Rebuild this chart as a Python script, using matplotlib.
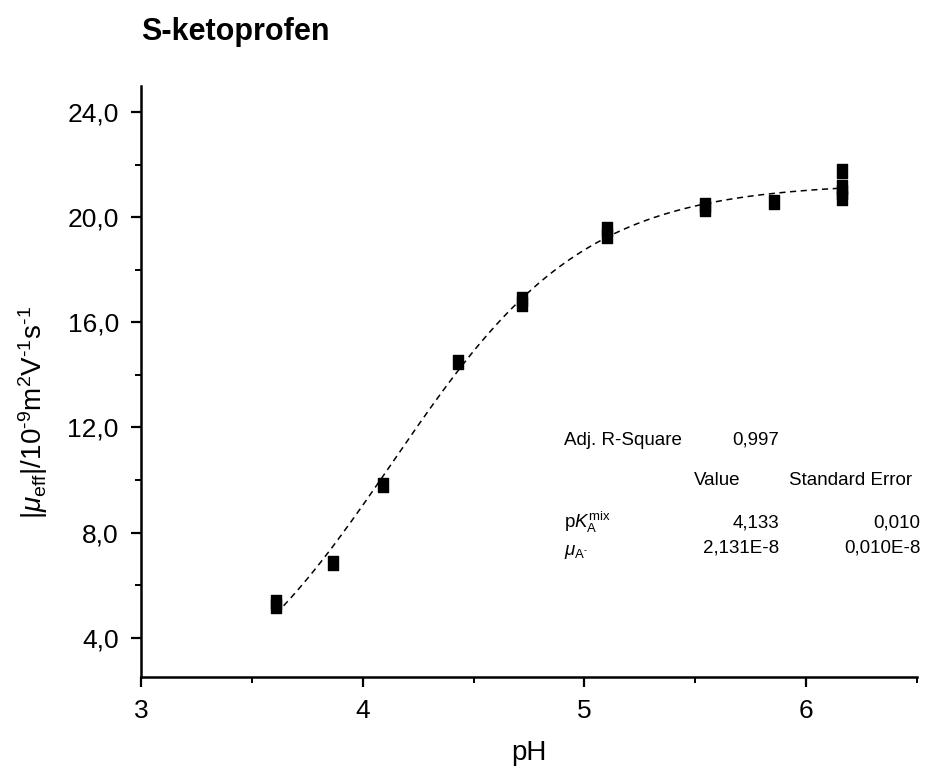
import numpy as np
import matplotlib
matplotlib.use("Agg")
import matplotlib.pyplot as plt
from matplotlib.path import Path

plt.rcParams['font.family'] = ['Liberation Sans', 'DejaVu Sans']
plt.rcParams['mathtext.fontset'] = 'custom'
plt.rcParams['mathtext.rm'] = 'Liberation Sans'
plt.rcParams['mathtext.it'] = 'Liberation Sans:italic'
plt.rcParams['mathtext.bf'] = 'Liberation Sans:bold'

# measured data (pH, |mu_eff| in 1e-9 m2/Vs)
ph = [3.61, 3.61, 3.866, 4.09, 4.43, 4.72, 4.72, 5.10, 5.10, 5.545, 5.545, 5.857,
      6.16, 6.16, 6.16, 6.16]
mu = [5.20, 5.35, 6.85, 9.81, 14.49, 16.70, 16.90, 19.29, 19.56, 20.32, 20.47, 20.57,
      20.72, 20.95, 21.16, 21.76]

# fit parameters
pka = 4.133
mu_a = 21.31
fit_range = [3.61, 6.16]

xticks = [3, 4, 5, 6]
yticks = [4, 8, 12, 16, 20, 24]
ytick_labels = ['4,0', '8,0', '12,0', '16,0', '20,0', '24,0']

fig = plt.figure(figsize=(9.27, 7.73), dpi=100)
ax = fig.add_axes([141/927, 1-677/773, 776/927, 591/773])

xf = np.linspace(fit_range[0], fit_range[1], 300)
yf = mu_a / (1 + 10**(pka - xf))
ax.plot(xf, yf, color='black', lw=1.1, linestyle=(0, (4, 3)))

rect = Path([(-0.385, -0.5), (0.385, -0.5), (0.385, 0.5), (-0.385, 0.5), (-0.385, -0.5)],
            [Path.MOVETO, Path.LINETO, Path.LINETO, Path.LINETO, Path.CLOSEPOLY])
ax.plot(ph, mu, linestyle='none', marker=rect, markersize=9.5, color='black', zorder=3)

ax.set_xlim(3, 6.5)
ax.set_ylim(2.5, 25)
ax.set_xticks(xticks)
ax.set_xticklabels([str(t) for t in xticks])
ax.set_xticks([3.5, 4.5, 5.5, 6.5], minor=True)
ax.set_yticks(yticks)
ax.set_yticklabels(ytick_labels)
ax.set_yticks([6, 10, 14, 18, 22], minor=True)

for s in ['top', 'right']:
    ax.spines[s].set_visible(False)
for s in ['left', 'bottom']:
    ax.spines[s].set_linewidth(1.8)
ax.tick_params(which='major', direction='out', length=7, width=1.6, labelsize=19)
ax.tick_params(axis='y', which='major', pad=9)
ax.tick_params(axis='x', which='major', pad=9)
ax.tick_params(which='minor', direction='out', length=4, width=1.4)

ax.set_xlabel('pH', fontsize=20, labelpad=12)
ax.set_ylabel(r'$|\mu_{\mathregular{eff}}|/10^{\text{-9}}\mathregular{m}^{2}\mathregular{V}^{\text{-1}}\mathregular{s}^{\text{-1}}$',
              fontsize=20)
ax.yaxis.set_label_coords((50 - 141) / 776, (677 - 412) / 591)

fig.text(141/927, 1-40/773, 'S-ketoprofen', fontsize=22, fontweight='bold', ha='left', va='baseline')

fs = 13.5
def dx(px):
    return 3 + (px - 141) / 221
def dy(py):
    return 4 + (638 - py) / 26.3

ax.text(dx(563), dy(445), 'Adj. R-Square', fontsize=fs, va='baseline', ha='left')
ax.text(dx(777), dy(445), '0,997', fontsize=fs, va='baseline', ha='right')
ax.text(dx(692), dy(485), 'Value', fontsize=fs, va='baseline', ha='left')
ax.text(dx(787), dy(485), 'Standard Error', fontsize=fs, va='baseline', ha='left', clip_on=False)
ax.text(dx(563), dy(528), r'p$K_{\mathregular{A}}^{\mathregular{mix}}$', fontsize=fs, va='baseline', ha='left')
ax.text(dx(777), dy(528), '4,133', fontsize=fs, va='baseline', ha='right')
ax.text(dx(918), dy(528), '0,010', fontsize=fs, va='baseline', ha='right', clip_on=False)
ax.text(dx(563), dy(555), r'$\mu_{\mathregular{A}^{\text{-}}}$', fontsize=fs, va='baseline', ha='left')
ax.text(dx(777), dy(553), '2,131E-8', fontsize=fs, va='baseline', ha='right')
ax.text(dx(918), dy(553), '0,010E-8', fontsize=fs, va='baseline', ha='right', clip_on=False)

fig.savefig('out.png', dpi=100)
